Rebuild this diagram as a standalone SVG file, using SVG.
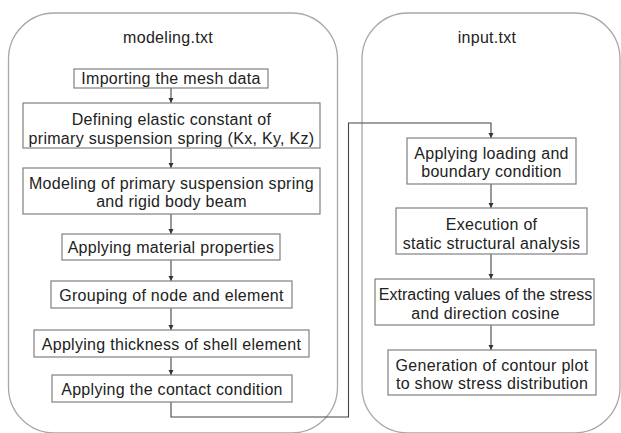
<svg xmlns="http://www.w3.org/2000/svg" width="621" height="433" viewBox="0 0 621 433">
<defs>
<marker id="arr" markerWidth="6" markerHeight="6" refX="5" refY="3" orient="auto" markerUnits="userSpaceOnUse">
<path d="M0,0.5 L5,3 L0,5.5 Z" fill="#333"/>
</marker>
</defs>
<style>
.cont{fill:none;stroke:#a8a8a8;stroke-width:1.3}
.box{fill:#fff;stroke:#808080;stroke-width:1.2}
.t{font-family:"Liberation Sans",Arial,sans-serif;font-size:16px;letter-spacing:0.3px;fill:#222;text-anchor:middle}
.tight{letter-spacing:0}
.c{fill:none;stroke:#444;stroke-width:1.1}
</style>
<rect width="621" height="433" fill="#fff"/>
<g id="modeling">
<rect class="cont" x="8.5" y="13" width="329" height="420" rx="46"/>
<text class="t" x="168" y="43">modeling.txt</text>
</g>
<g id="input">
<rect class="cont" x="362" y="13" width="258" height="420" rx="46"/>
<text class="t" x="487" y="43">input.txt</text>
</g>
<g id="connectors">
<line class="c" x1="171" y1="88" x2="171" y2="103" marker-end="url(#arr)"/>
<line class="c" x1="171" y1="148" x2="171" y2="168" marker-end="url(#arr)"/>
<line class="c" x1="171" y1="214" x2="171" y2="234" marker-end="url(#arr)"/>
<line class="c" x1="171" y1="260" x2="171" y2="281" marker-end="url(#arr)"/>
<line class="c" x1="171" y1="308" x2="171" y2="330" marker-end="url(#arr)"/>
<line class="c" x1="171" y1="357" x2="171" y2="375" marker-end="url(#arr)"/>
<polyline class="c" points="171,402 171,417 348.5,417 348.5,123 491,123 491,138" marker-end="url(#arr)"/>
<line class="c" x1="491" y1="184" x2="491" y2="208" marker-end="url(#arr)"/>
<line class="c" x1="491" y1="254" x2="491" y2="279" marker-end="url(#arr)"/>
<line class="c" x1="491" y1="325" x2="491" y2="350" marker-end="url(#arr)"/>
</g>
<g id="n1">
<rect class="box" x="74" y="69" width="194" height="19"/>
<text class="t" x="171" y="84">Importing the mesh data</text>
</g>
<g id="n2">
<rect class="box" x="23" y="103" width="297" height="45"/>
<text class="t" x="171.5" y="125">Defining elastic constant of</text>
<text class="t" x="171.5" y="144">primary suspension spring (Kx, Ky, Kz)</text>
</g>
<g id="n3">
<rect class="box" x="23" y="168" width="297" height="46"/>
<text class="t" x="171.5" y="189">Modeling of primary suspension spring</text>
<text class="t" x="171.5" y="207">and rigid body beam</text>
</g>
<g id="n4">
<rect class="box" x="62" y="234" width="218" height="26"/>
<text class="t" x="171" y="253">Applying material properties</text>
</g>
<g id="n5">
<rect class="box" x="51" y="281" width="241" height="27"/>
<text class="t" x="171.5" y="301">Grouping of node and element</text>
</g>
<g id="n6">
<rect class="box" x="34" y="330" width="275" height="27"/>
<text class="t" x="171.5" y="349.5">Applying thickness of shell element</text>
</g>
<g id="n7">
<rect class="box" x="52" y="375" width="240" height="27"/>
<text class="t" x="172" y="394.5">Applying the contact condition</text>
</g>
<g id="r1">
<rect class="box" x="407" y="138" width="169" height="46"/>
<text class="t" x="491.5" y="158.5">Applying loading and</text>
<text class="t" x="491.5" y="177">boundary condition</text>
</g>
<g id="r2">
<rect class="box" x="396" y="208" width="191" height="46"/>
<text class="t" x="491.5" y="230">Execution of</text>
<text class="t" x="491.5" y="248.5">static structural analysis</text>
</g>
<g id="r3">
<rect class="box" x="375" y="279" width="219" height="46"/>
<text class="t tight" x="485.5" y="300">Extracting values of the stress</text>
<text class="t" x="485.5" y="318.5">and direction cosine</text>
</g>
<g id="r4">
<rect class="box" x="388" y="350" width="208" height="45"/>
<text class="t" x="492" y="370.5">Generation of contour plot</text>
<text class="t" x="492" y="389">to show stress distribution</text>
</g>
</svg>
